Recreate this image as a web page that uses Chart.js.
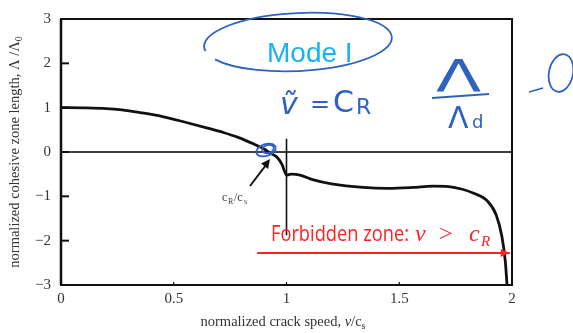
<!DOCTYPE html>
<html>
<head>
<meta charset="utf-8">
<script src="https://cdn.jsdelivr.net/npm/chart.js@4.4.1/dist/chart.umd.min.js"></script>
<style>
  html, body { margin: 0; padding: 0; background: #fff; }
  #wrap { width: 573px; height: 333px; }
</style>
</head>
<body>
<div id="wrap"><canvas id="chart"></canvas></div>
<script>
// normalized crack speed v/cs and normalized cohesive zone length
const speed = [0, 0.1, 0.2, 0.27, 0.35, 0.45, 0.56, 0.65, 0.72, 0.785, 0.85, 0.9, 0.92, 0.96, 0.98, 1.0,
    1.02, 1.06, 1.12, 1.2, 1.34, 1.45, 1.56, 1.65, 1.72, 1.78, 1.83, 1.89, 1.93, 1.955, 1.97, 1.978];
const zoneLength = [1.0, 0.995, 0.98, 0.95, 0.89, 0.8, 0.66, 0.54, 0.44, 0.33, 0.19, 0.07, 0.0, -0.13, -0.28, -0.52,
    -0.5, -0.52, -0.63, -0.72, -0.8, -0.82, -0.8, -0.77, -0.78, -0.84, -0.93, -1.1, -1.42, -1.9, -2.45, -3.0];

const rayleighSpeed = [1, 1];
const rayleighLen = [0.3, -1.88];

const axisSpeed = [0, 2];
const axisLen = [0, 0];

const forbiddenSpeed = [0.87, 1.99];
const forbiddenLen = [-2.28, -2.28];

const xTicks = [0, 0.5, 1, 1.5, 2];
const yTicks = [-3, -2, -1, 0, 1, 2, 3];

const pts = (xs, ys) => xs.map((x, i) => ({ x: x, y: ys[i] }));
const serif = "'Liberation Serif', 'DejaVu Serif', serif";

function fmt(v) {
    return v < 0 ? "\u2212" + Math.abs(v) : String(v);
}

function drawArrowHead(ctx, x, y, angle, len, wid, color) {
    ctx.save();
    ctx.translate(x, y);
    ctx.rotate(angle);
    ctx.fillStyle = color;
    ctx.beginPath();
    ctx.moveTo(0, 0);
    ctx.lineTo(-len, -wid);
    ctx.lineTo(-len, wid);
    ctx.closePath();
    ctx.fill();
    ctx.restore();
}

const decor = {
    id: 'decor',
    afterDraw(chart) {
        const ctx = chart.ctx;
        const a = chart.chartArea;
        const xs = chart.scales.x, ys = chart.scales.y;
        ctx.save();

        // frame
        ctx.strokeStyle = '#111';
        ctx.lineWidth = 2;
        ctx.strokeRect(a.left, a.top, a.right - a.left, a.bottom - a.top);
        ctx.lineWidth = 2.5;
        ctx.beginPath();
        ctx.moveTo(a.left, a.top);
        ctx.lineTo(a.left, a.bottom);
        ctx.stroke();

        // inner ticks
        ctx.lineWidth = 2;
        yTicks.forEach(v => {
            const py = ys.getPixelForValue(v);
            ctx.beginPath();
            ctx.moveTo(a.left, py);
            ctx.lineTo(a.left + 8, py);
            ctx.stroke();
        });
        ctx.lineWidth = 1.2;
        xTicks.slice(1, -1).forEach(v => {
            const px = xs.getPixelForValue(v);
            ctx.beginPath();
            ctx.moveTo(px, a.bottom);
            ctx.lineTo(px, a.bottom - 3);
            ctx.stroke();
        });

        // axis titles
        const tf = "14.5px " + serif;
        const sf = "10px " + serif;
        ctx.fillStyle = '#333';
        ctx.textBaseline = 'alphabetic';
        ctx.font = tf;
        ctx.save();
        ctx.translate(19, (a.top + a.bottom) / 2);
        ctx.rotate(-Math.PI / 2);
        const yt1 = "normalized cohesive zone length, \u039B /\u039B";
        const w1 = ctx.measureText(yt1).width;
        ctx.font = sf;
        const w2 = ctx.measureText("0").width;
        let sx = -(w1 + w2) / 2;
        ctx.font = tf;
        ctx.fillText(yt1, sx, 0);
        ctx.font = sf;
        ctx.fillText("0", sx + w1, 3);
        ctx.restore();

        const xt1 = "normalized crack speed, ";
        ctx.font = tf;
        const xw1 = ctx.measureText(xt1).width;
        ctx.font = "italic " + tf;
        const xw2 = ctx.measureText("v").width;
        ctx.font = tf;
        const xw3 = ctx.measureText("/c").width;
        ctx.font = sf;
        const xw4 = ctx.measureText("s").width;
        let tx = 283 - (xw1 + xw2 + xw3 + xw4) / 2;
        const tyb = 326;
        ctx.font = tf;
        ctx.fillText(xt1, tx, tyb); tx += xw1;
        ctx.font = "italic " + tf;
        ctx.fillText("v", tx, tyb); tx += xw2;
        ctx.font = tf;
        ctx.fillText("/c", tx, tyb); tx += xw3;
        ctx.font = sf;
        ctx.fillText("s", tx, tyb + 3);

        // c_R/c_s label and arrow
        ctx.fillStyle = '#444';
        ctx.font = "12px " + serif;
        ctx.fillText("c", 222, 201);
        ctx.font = "8px " + serif;
        ctx.fillText("R", 228, 204);
        ctx.font = "12px " + serif;
        ctx.fillText("/c", 234, 201);
        ctx.font = "8px " + serif;
        ctx.fillText("s", 244, 204);
        ctx.strokeStyle = '#111';
        ctx.lineWidth = 2;
        ctx.beginPath();
        ctx.moveTo(250, 186);
        ctx.lineTo(266, 165);
        ctx.stroke();
        drawArrowHead(ctx, 270, 159, Math.atan2(-21, 16), 9, 4.5, '#111');

        // red forbidden zone arrow head and text
        const red = '#ff2020';
        const fm = chart.getDatasetMeta(3).data;
        drawArrowHead(ctx, fm[1].x, fm[1].y, 0, 9, 4, red);
        ctx.fillStyle = red;
        ctx.font = "21px 'Open Sans', 'DejaVu Sans', sans-serif";
        const ft = "Forbidden zone:";
        const fw = ctx.measureText(ft).width;
        ctx.save();
        ctx.translate(271, 241);
        ctx.scale(138 / fw, 1);
        ctx.fillText(ft, 0, 0);
        ctx.restore();
        ctx.font = "italic 24px " + serif;
        ctx.fillText("v", 415, 241);
        ctx.font = "24px " + serif;
        ctx.fillText(">", 439, 241);
        ctx.font = "italic 24px " + serif;
        ctx.fillText("c", 469, 241);
        ctx.font = "italic 15px " + serif;
        ctx.fillText("R", 481, 246);

        // handwritten blue notes
        const blue = '#2f62c0';
        ctx.strokeStyle = blue;
        ctx.lineWidth = 1.8;
        ctx.beginPath();
        ctx.ellipse(298, 42, 94, 29, -0.05, Math.PI * 0.95, Math.PI * 2.85);
        ctx.stroke();
        ctx.beginPath();
        ctx.ellipse(266, 150, 10, 6, -0.3, 0, Math.PI * 2);
        ctx.stroke();
        ctx.beginPath();
        ctx.ellipse(268, 149, 6, 4, -0.3, 0, Math.PI * 2);
        ctx.stroke();

        ctx.fillStyle = '#1ab2f2';
        ctx.font = "28px 'Liberation Sans', 'DejaVu Sans', sans-serif";
        ctx.fillText("Mode I", 267, 62);

        ctx.fillStyle = blue;
        ctx.font = "italic 30px 'DejaVu Sans', sans-serif";
        ctx.fillText("\u1E7D", 280, 114);
        ctx.font = "24px 'DejaVu Sans', sans-serif";
        ctx.fillText("=", 310, 112);
        ctx.font = "30px 'DejaVu Sans', sans-serif";
        ctx.fillText("C", 333, 112);
        ctx.font = "22px 'DejaVu Sans', sans-serif";
        ctx.fillText("R", 356, 114);

        ctx.save();
        ctx.translate(436, 92);
        ctx.scale(1.5, 1);
        ctx.font = "44px 'DejaVu Sans', sans-serif";
        ctx.fillText("\u039B", 0, 0);
        ctx.restore();
        ctx.beginPath();
        ctx.moveTo(432, 98);
        ctx.lineTo(489, 94);
        ctx.stroke();
        ctx.font = "30px 'DejaVu Sans', sans-serif";
        ctx.fillText("\u039B", 448, 128);
        ctx.font = "18px 'DejaVu Sans', sans-serif";
        ctx.fillText("d", 472, 128);
        ctx.beginPath();
        ctx.moveTo(529, 92);
        ctx.lineTo(543, 88);
        ctx.stroke();
        ctx.beginPath();
        ctx.ellipse(561, 73, 12, 19, 0.2, 0, Math.PI * 2);
        ctx.stroke();

        ctx.restore();
    }
};

new Chart(document.getElementById('chart'), {
    type: 'scatter',
    data: {
        datasets: [
            {
                data: pts(speed, zoneLength),
                showLine: true,
                borderColor: '#111',
                borderWidth: 2.8,
                pointRadius: 0,
                cubicInterpolationMode: 'monotone'
            },
            {
                data: pts(rayleighSpeed, rayleighLen),
                showLine: true,
                borderColor: '#111',
                borderWidth: 1.6,
                pointRadius: 0
            },
            {
                data: pts(axisSpeed, axisLen),
                showLine: true,
                borderColor: '#000',
                borderWidth: 1.5,
                pointRadius: 0
            },
            {
                data: pts(forbiddenSpeed, forbiddenLen),
                showLine: true,
                borderColor: '#ff2020',
                borderWidth: 2,
                pointRadius: 0
            }
        ]
    },
    options: {
        responsive: true,
        maintainAspectRatio: false,
        animation: false,
        events: [],
        layout: { padding: { top: 11, right: 61, left: 0, bottom: 0 } },
        plugins: { legend: { display: false }, tooltip: { enabled: false } },
        scales: {
            x: {
                type: 'linear',
                min: 0,
                max: 2,
                afterBuildTicks: s => { s.ticks = xTicks.map(v => ({ value: v })); },
                afterFit: s => { s.height = 48; },
                grid: { display: false, drawTicks: false },
                border: { display: false },
                ticks: {
                    padding: 5,
                    color: '#333',
                    font: { family: serif, size: 15 },
                    callback: v => fmt(v)
                }
            },
            y: {
                type: 'linear',
                min: -3,
                max: 3,
                afterBuildTicks: s => { s.ticks = yTicks.map(v => ({ value: v })); },
                afterFit: s => { s.width = 61; },
                grid: { display: false, drawTicks: false },
                border: { display: false },
                ticks: {
                    padding: 10,
                    color: '#333',
                    font: { family: serif, size: 15 },
                    callback: v => fmt(v)
                }
            }
        }
    },
    plugins: [decor]
});
</script>
</body>
</html>
